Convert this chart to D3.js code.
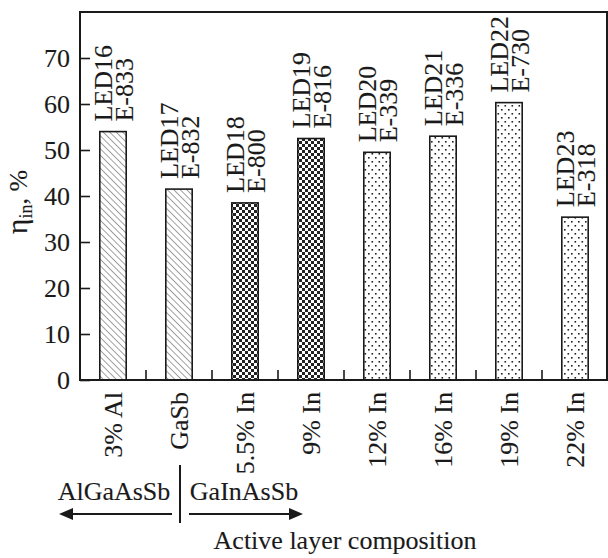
<!DOCTYPE html>
<html>
<head>
<meta charset="utf-8">
<script src="https://cdn.jsdelivr.net/npm/d3@7"></script>
<style>
  body { margin: 0; background: #fff; }
  svg { display: block; font-family: "Liberation Serif", "Times New Roman", serif; }
  svg text { stroke: #1a1a1a; stroke-width: 0.12px; }
</style>
</head>
<body>
<svg id="chart" width="608" height="558"></svg>
<script>
/* LED efficiency bar chart */

// data
const compositions = ['3% Al', 'GaSb', '5.5% In', '9% In', '12% In', '16% In', '19% In', '22% In'];
const ledNames = ['LED16', 'LED17', 'LED18', 'LED19', 'LED20', 'LED21', 'LED22', 'LED23'];
const epiNames = ['E-833', 'E-832', 'E-800', 'E-816', 'E-339', 'E-336', 'E-730', 'E-318'];
const efficiency = [54, 41.5, 38.5, 52.5, 49.5, 53, 60.3, 35.4];
const fillType = ['hatch', 'hatch', 'check', 'check', 'dots', 'dots', 'dots', 'dots'];
const yTicks = [0, 10, 20, 30, 40, 50, 60, 70];

const rows = compositions.map(function(c, i) {
  return {comp: c, led: ledNames[i], epi: epiNames[i], value: efficiency[i], fill: fillType[i]};
});

const svg = d3.select("#chart"),
    margin = {top: 12, right: 0, bottom: 178, left: 80},
    width = 608 - margin.left - margin.right,
    height = 558 - margin.top - margin.bottom,
    fontSize = 26,
    ink = "#1a1a1a";

// patterns
const defs = svg.append("defs");

const hatch = defs.append("pattern")
    .attr("id", "hatch")
    .attr("patternUnits", "userSpaceOnUse")
    .attr("width", 4.6).attr("height", 4.6)
    .attr("patternTransform", "rotate(-45)");
hatch.append("rect").attr("width", 4.6).attr("height", 4.6).attr("fill", "#fff");
hatch.append("line")
    .attr("x1", 0).attr("y1", 0).attr("x2", 0).attr("y2", 4.6)
    .attr("stroke", "#555").attr("stroke-width", 1.1);

const check = defs.append("pattern")
    .attr("id", "check")
    .attr("patternUnits", "userSpaceOnUse")
    .attr("width", 6).attr("height", 6);
check.append("rect").attr("width", 6).attr("height", 6).attr("fill", "#fff");
check.append("rect").attr("width", 3).attr("height", 3).attr("fill", "#222");
check.append("rect").attr("x", 3).attr("y", 3).attr("width", 3).attr("height", 3).attr("fill", "#222");

const dots = defs.append("pattern")
    .attr("id", "dots")
    .attr("patternUnits", "userSpaceOnUse")
    .attr("width", 7).attr("height", 8);
dots.append("rect").attr("width", 7).attr("height", 8).attr("fill", "#fff");
dots.append("rect").attr("x", 1).attr("y", 1).attr("width", 1.6).attr("height", 1.6).attr("fill", "#222");
dots.append("rect").attr("x", 4.5).attr("y", 5).attr("width", 1.6).attr("height", 1.6).attr("fill", "#222");

const g = svg.append("g")
    .attr("transform", "translate(" + margin.left + "," + margin.top + ")");

// scales
const x = d3.scaleBand()
    .domain(compositions)
    .range([0, width])
    .paddingInner(0.6)
    .paddingOuter(0.3);

const y = d3.scaleLinear()
    .domain([0, 80])
    .range([height, 0]);

// bars
g.selectAll("rect.bar")
    .data(rows)
    .enter().append("rect")
    .attr("class", "bar")
    .attr("x", function(d) { return x(d.comp); })
    .attr("y", function(d) { return y(d.value); })
    .attr("width", x.bandwidth())
    .attr("height", function(d) { return height - y(d.value); })
    .attr("fill", function(d) { return "url(#" + d.fill + ")"; })
    .attr("stroke", ink)
    .attr("stroke-width", 1.6);

// LED labels above bars
const lab = g.selectAll("g.lab")
    .data(rows)
    .enter().append("g")
    .attr("class", "lab")
    .attr("transform", function(d) {
      return "translate(" + (x(d.comp) + x.bandwidth() / 2) + "," + (y(d.value) - 10) + ") rotate(-90)";
    })
    .attr("font-size", fontSize)
    .attr("fill", ink);
lab.append("text").attr("y", -1).text(function(d) { return d.led; });
lab.append("text").attr("y", 20).text(function(d) { return d.epi; });

// y axis (inward ticks)
const yAxis = g.append("g")
    .call(d3.axisLeft(y).tickValues(yTicks).tickSize(-10).tickSizeOuter(0).tickPadding(10));
yAxis.select(".domain").remove();
yAxis.attr("font-family", null).attr("font-size", fontSize);
yAxis.selectAll("line").attr("stroke", ink).attr("stroke-width", 1.6);
yAxis.selectAll("text").attr("fill", ink);

// x axis labels (rotated)
const xAxis = g.append("g")
    .attr("transform", "translate(0," + height + ")")
    .call(d3.axisBottom(x).tickSize(0).tickPadding(0));
xAxis.select(".domain").remove();
xAxis.attr("font-family", null).attr("font-size", fontSize);
xAxis.selectAll("text")
    .attr("fill", ink)
    .attr("text-anchor", "end")
    .attr("transform", "rotate(-90)")
    .attr("x", -12)
    .attr("y", 0)
    .attr("dy", "0.36em");

// small ticks between bars
g.selectAll("line.sep")
    .data(compositions.slice(0, -1))
    .enter().append("line")
    .attr("class", "sep")
    .attr("x1", function(d) { return x(d) + x.bandwidth() / 2 + x.step() / 2; })
    .attr("x2", function(d) { return x(d) + x.bandwidth() / 2 + x.step() / 2; })
    .attr("y1", height)
    .attr("y2", height - 10)
    .attr("stroke", ink)
    .attr("stroke-width", 1.6);

// frame
g.append("rect")
    .attr("x", 0).attr("y", 0)
    .attr("width", width - 1).attr("height", height)
    .attr("fill", "none")
    .attr("stroke", ink)
    .attr("stroke-width", 2);

// y label
const yl = svg.append("text")
    .attr("transform", "translate(27," + (margin.top + height / 2 + 6) + ") rotate(-90)")
    .attr("text-anchor", "middle")
    .attr("font-size", fontSize)
    .attr("fill", ink);
yl.append("tspan").attr("font-size", 30).text("η");
yl.append("tspan").attr("font-size", 18).attr("dy", 5).text("in");
yl.append("tspan").attr("dy", -5).text(", %");

// composition groups annotation
const cx = function(c) { return margin.left + x(c) + x.bandwidth() / 2; };
const divX = cx('GaSb') + 1;
const arrowY = 514;

svg.append("line")
    .attr("x1", divX).attr("x2", divX)
    .attr("y1", 465).attr("y2", 523)
    .attr("stroke", ink).attr("stroke-width", 2);

svg.append("text")
    .attr("x", cx('3% Al') + 1).attr("y", 500)
    .attr("text-anchor", "middle")
    .attr("font-size", fontSize)
    .attr("fill", ink)
    .text("AlGaAsSb");

svg.append("text")
    .attr("x", cx('5.5% In') - 1).attr("y", 500)
    .attr("text-anchor", "middle")
    .attr("font-size", fontSize)
    .attr("fill", ink)
    .text("GaInAsSb");

// arrows
const leftEnd = 59, rightEnd = 303;
svg.append("line")
    .attr("x1", leftEnd + 10).attr("x2", divX - 8)
    .attr("y1", arrowY).attr("y2", arrowY)
    .attr("stroke", ink).attr("stroke-width", 2);
svg.append("path")
    .attr("d", "M" + leftEnd + "," + arrowY + " l14,-6 l0,12 z")
    .attr("fill", ink);

svg.append("line")
    .attr("x1", divX + 9).attr("x2", rightEnd - 10)
    .attr("y1", arrowY).attr("y2", arrowY)
    .attr("stroke", ink).attr("stroke-width", 2);
svg.append("path")
    .attr("d", "M" + rightEnd + "," + arrowY + " l-14,-6 l0,12 z")
    .attr("fill", ink);

svg.append("text")
    .attr("x", 345).attr("y", 549)
    .attr("text-anchor", "middle")
    .attr("font-size", fontSize)
    .attr("fill", ink)
    .text("Active layer composition");
</script>
</body>
</html>
